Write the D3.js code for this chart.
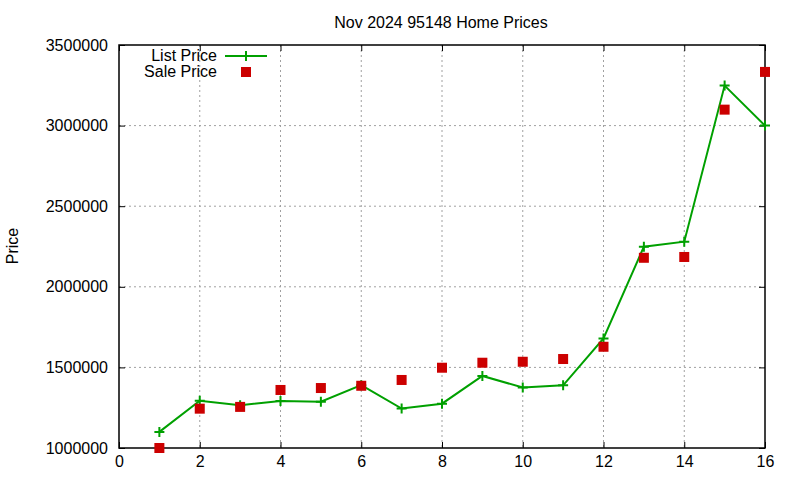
<!DOCTYPE html>
<html>
<head>
<meta charset="utf-8">
<script src="https://cdn.jsdelivr.net/npm/d3@7"></script>
<style>
  body { margin: 0; background: #fff; }
  svg { font-family: "Liberation Sans", Arial, sans-serif; }
</style>
</head>
<body>
<svg width="800" height="480"></svg>
<script>
// donnees
const months = [1, 2, 3, 4, 5, 6, 7, 8, 9, 10, 11, 12, 13, 14, 15, 16];
const listPrice = [1100000, 1293000, 1265000, 1292000, 1287000, 1390000, 1245000, 1275000,
                   1447000, 1375000, 1389000, 1680000, 2249000, 2280000, 3248000, 3000000];
const salePrice = [1000000, 1244000, 1255000, 1360000, 1372000, 1386000, 1422000, 1498000,
                   1529000, 1535000, 1552000, 1628000, 2180000, 2185000, 3099000, 3333000];
const xTicks = [0, 2, 4, 6, 8, 10, 12, 14, 16];
const yTicks = [1000000, 1500000, 2000000, 2500000, 3000000, 3500000];

const svg = d3.select("svg"),
      margin = { top: 45, right: 35, bottom: 32, left: 119 },
      width = 800 - margin.left - margin.right,
      height = 480 - margin.top - margin.bottom;

const x = d3.scaleLinear().domain([0, 16]).range([0, width]);
const y = d3.scaleLinear().domain([1000000, 3500000]).range([height, 0]);

const chart = svg.append("g")
    .attr("transform", `translate(${margin.left},${margin.top})`);

// grille
chart.selectAll(".gx").data(xTicks.slice(1, -1)).join("line")
    .attr("x1", d => x(d)).attr("x2", d => x(d))
    .attr("y1", 0).attr("y2", height)
    .attr("stroke", "#a0a0a0").attr("stroke-dasharray", "2,3");
chart.selectAll(".gy").data(yTicks.slice(1, -1)).join("line")
    .attr("x1", 0).attr("x2", width)
    .attr("y1", d => y(d)).attr("y2", d => y(d))
    .attr("stroke", "#a0a0a0").attr("stroke-dasharray", "2,3");

// axes (ticks vers l'interieur, en miroir)
const styleAxis = g => {
    g.select(".domain").remove();
    g.selectAll("line").attr("stroke", "#000");
    g.selectAll("text").attr("font-size", 16).attr("fill", "#000");
};
chart.append("g").attr("transform", `translate(0,${height})`)
    .call(d3.axisBottom(x).tickValues(xTicks).tickSize(-6).tickPadding(8).tickFormat(d3.format("d")))
    .call(styleAxis);
chart.append("g")
    .call(d3.axisTop(x).tickValues(xTicks).tickSize(-6).tickFormat(""))
    .call(styleAxis);
chart.append("g")
    .call(d3.axisLeft(y).tickValues(yTicks).tickSize(-6).tickPadding(11).tickFormat(d3.format("d")))
    .call(styleAxis);
chart.append("g").attr("transform", `translate(${width},0)`)
    .call(d3.axisRight(y).tickValues(yTicks).tickSize(-6).tickFormat(""))
    .call(styleAxis);

chart.append("rect")
    .attr("width", width).attr("height", height)
    .attr("fill", "none").attr("stroke", "#000").attr("stroke-width", 1.5);

// serie List Price
const listData = months.map((m, i) => ({ m, v: listPrice[i] }));
chart.append("path")
    .datum(listData)
    .attr("fill", "none")
    .attr("stroke", "#00a000")
    .attr("stroke-width", 2)
    .attr("d", d3.line().x(d => x(d.m)).y(d => y(d.v)));

chart.selectAll(".lp").data(listData).join("path")
    .attr("transform", d => `translate(${x(d.m)},${y(d.v)})`)
    .attr("d", "M-5,0H5M0,-5V5")
    .attr("stroke", "#00a000").attr("stroke-width", 2);

// serie Sale Price
const saleData = months.map((m, i) => ({ m, v: salePrice[i] }));
chart.selectAll(".sp").data(saleData).join("rect")
    .attr("x", d => x(d.m) - 5)
    .attr("y", d => y(d.v) - 5)
    .attr("width", 10).attr("height", 10)
    .attr("fill", "#cc0000");

// titre
svg.append("text")
    .attr("x", 441).attr("y", 28)
    .attr("text-anchor", "middle").attr("font-size", 16)
    .text("Nov 2024 95148 Home Prices");

svg.append("text")
    .attr("transform", "translate(18,246) rotate(-90)")
    .attr("text-anchor", "middle").attr("font-size", 16)
    .text("Price");

// legende
const legend = svg.append("g");
legend.append("text").attr("x", 217).attr("y", 61)
    .attr("text-anchor", "end").attr("font-size", 16).text("List Price");
legend.append("line").attr("x1", 225).attr("x2", 267).attr("y1", 56).attr("y2", 56)
    .attr("stroke", "#00a000").attr("stroke-width", 2);
legend.append("path").attr("transform", "translate(246,56)")
    .attr("d", "M-5,0H5M0,-5V5").attr("stroke", "#00a000").attr("stroke-width", 2);
legend.append("text").attr("x", 217).attr("y", 77)
    .attr("text-anchor", "end").attr("font-size", 16).text("Sale Price");
legend.append("rect").attr("x", 241).attr("y", 67).attr("width", 10).attr("height", 10)
    .attr("fill", "#cc0000");
</script>
</body>
</html>
